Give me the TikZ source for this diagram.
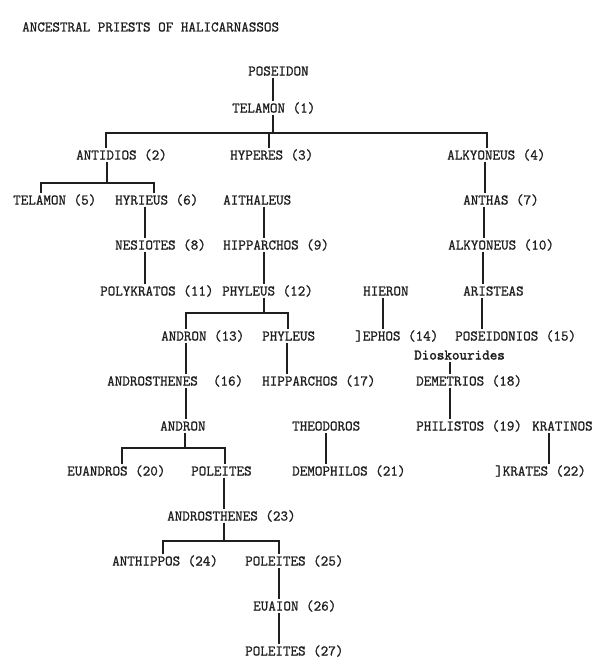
\documentclass[tikz,border=0pt]{standalone}
\usepackage{fontspec}
\newfontfamily\tw[FakeBold=1.2]{Latin Modern Mono}
\newfontfamily\twb[FakeBold=2.2]{Latin Modern Mono}
\definecolor{ink}{gray}{0.12}
\tikzset{
  n/.style={anchor=west, inner xsep=0pt, inner ysep=2pt, text height=9pt, text depth=0pt,
    font=\tw\fontsize{14.67}{16}\selectfont, text=ink},
  ln/.style={draw=ink, line width=1.1pt}
}
\newcommand\vl[3]{\draw[ln] ([xshift=#3pt]#1.south west) -- ([xshift=#3pt]#1.south west |- #2.north);}
\begin{document}
\begin{tikzpicture}[x=1pt,y=1pt]
\useasboundingbox (0,0) rectangle (596,-669);
\node[n] (title) at (22,-27) {ANCESTRAL PRIESTS OF HALICARNASSOS};
\node[n] (poseidon) at (248,-71) {POSEIDON};
\node[n] (t1) at (232,-108) {TELAMON (1)};
\node[n] (antidios) at (76,-155) {ANTIDIOS (2)};
\node[n] (hyperes) at (230,-155) {HYPERES (3)};
\node[n] (alk4) at (447,-155) {ALKYONEUS (4)};
\node[n] (t5) at (13,-200) {TELAMON (5)};
\node[n] (hyr) at (115,-200) {HYRIEUS (6)};
\node[n] (aith) at (223,-200) {AITHALEUS};
\node[n] (anthas) at (463,-200) {ANTHAS (7)};
\node[n] (nes) at (115,-245) {NESIOTES (8)};
\node[n] (hipp9) at (223,-245) {HIPPARCHOS (9)};
\node[n] (alk10) at (448,-245) {ALKYONEUS (10)};
\node[n] (poly) at (100,-291) {POLYKRATOS (11)};
\node[n] (phy12) at (222,-291) {PHYLEUS (12)};
\node[n] (hieron) at (363,-291) {HIERON};
\node[n] (arist) at (463,-291) {ARISTEAS};
\node[n] (andr13) at (161,-336) {ANDRON (13)};
\node[n] (phy) at (262,-336) {PHYLEUS};
\node[n] (ephos) at (355,-336) {]EPHOS (14)};
\node[n] (posd) at (455,-336) {POSEIDONIOS (15)};
\node[n, font=\twb\fontsize{14.67}{16}\selectfont] (dios) at (414,-355) {Dioskourides};
\node[n] (andros16) at (107,-381) {ANDROSTHENES\ \ (16)};
\node[n] (hipp17) at (262,-381) {HIPPARCHOS (17)};
\node[n] (dem) at (416,-381) {DEMETRIOS (18)};
\node[n] (andron) at (160,-426) {ANDRON};
\node[n] (theo) at (292,-426) {THEODOROS};
\node[n] (phil) at (416,-426) {PHILISTOS (19)};
\node[n] (krat) at (532,-426) {KRATINOS};
\node[n] (euan) at (67,-471) {EUANDROS (20)};
\node[n] (pol) at (191,-471) {POLEITES};
\node[n] (demo) at (292,-471) {DEMOPHILOS (21)};
\node[n] (krates) at (495,-471) {]KRATES (22)};
\node[n] (andros23) at (167,-516) {ANDROSTHENES (23)};
\node[n] (anth) at (112,-561) {ANTHIPPOS (24)};
\node[n] (pol25) at (245,-561) {POLEITES (25)};
\node[n] (eua) at (253,-606) {EUAION (26)};
\node[n] (pol27) at (245,-651) {POLEITES (27)};
% junctions
\coordinate (j1) at (273,-133);
\coordinate (j2) at (107,-183);
\coordinate (j3) at (264,-313);
\coordinate (j4) at (185,-448);
\coordinate (j5) at (224,-541);
% simple descents
\vl{poseidon}{t1}{25}
\vl{hyr}{nes}{30}
\vl{nes}{poly}{30}
\vl{aith}{hipp9}{41}
\vl{hipp9}{phy12}{41}
\vl{alk4}{anthas}{38}
\vl{anthas}{alk10}{21}
\vl{alk10}{arist}{35}
\vl{hieron}{ephos}{20}
\vl{arist}{posd}{19}
\vl{dios}{dem}{36}
\vl{andr13}{andros16}{25}
\vl{phy}{hipp17}{25}
\vl{andros16}{andron}{79}
\vl{theo}{demo}{34}
\vl{dem}{phil}{34}
\vl{krat}{krates}{17}
\vl{pol}{andros23}{33}
\vl{pol25}{eua}{34}
\vl{eua}{pol27}{26}
% branchings
\draw[ln] ([xshift=41pt]t1.south west) -- ([xshift=41pt]t1.south west |- j1);
\draw[ln] ([xshift=30pt]antidios.north west) |- (j1) -| ([xshift=40pt]alk4.north west);
\draw[ln] ([xshift=39pt]hyperes.north west) -- ([xshift=39pt]hyperes.north west |- j1);
\draw[ln] ([xshift=31pt]antidios.south west) -- ([xshift=31pt]antidios.south west |- j2);
\draw[ln] ([xshift=28pt]t5.north west) |- (j2) -| ([xshift=39pt]hyr.north west);
\draw[ln] ([xshift=42pt]phy12.south west) -- ([xshift=42pt]phy12.south west |- j3);
\draw[ln] ([xshift=25pt]andr13.north west) |- (j3) -| ([xshift=26pt]phy.north west);
\draw[ln] ([xshift=25pt]andron.south west) -- ([xshift=25pt]andron.south west |- j4);
\draw[ln] ([xshift=55pt]euan.north west) |- (j4) -| ([xshift=34pt]pol.north west);
\draw[ln] ([xshift=57pt]andros23.south west) -- ([xshift=57pt]andros23.south west |- j5);
\draw[ln] ([xshift=51pt]anth.north west) |- (j5) -| ([xshift=34pt]pol25.north west);
\end{tikzpicture}
\end{document}
